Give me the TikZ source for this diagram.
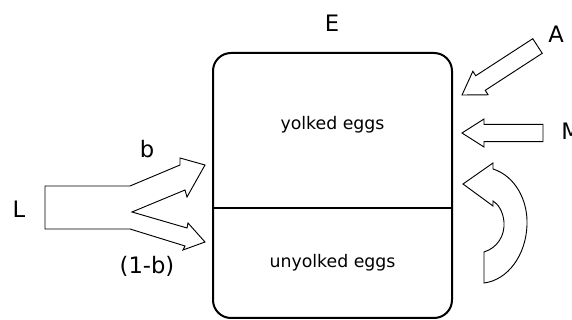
\documentclass[tikz,border=0pt]{standalone}
\usepackage{fontspec}
\setmainfont{DejaVu Sans}
\usetikzlibrary{positioning}

% block arrow: tail centre, direction, length
\newcommand{\fatarrow}[3]{%
  \draw[outline, shift={#1}, rotate=#2] (0,-8.7) -- (#3-22,-8.7) -- (#3-22,-14)
    -- (#3,0) -- (#3-22,14) -- (#3-22,8.7) -- (0,8.7) -- cycle;}

\begin{document}
\begin{tikzpicture}[x=0.75pt,y=-0.75pt,
    outline/.style={draw, line width=0.7pt, line join=miter},
    biglabel/.style={anchor=base, inner sep=0pt, font=\fontsize{17}{20}\selectfont},
    eggtext/.style={anchor=base, inner sep=0pt, font=\fontsize{13}{16}\selectfont}]
    \useasboundingbox (0,0) rectangle (572,320);

    \node[draw, line width=1.5pt, rounded corners=13.5pt, inner sep=0pt,
          minimum width=179.25pt, minimum height=198.75pt] (eggs) at (332.5,185.5) {};
    \draw[line width=1.5pt] (eggs.west |- 0,208) -- (eggs.east |- 0,208);

    \node[biglabel] (E) at (332,32) {E};
    \node[eggtext] (yolked) at (332.5,130) {yolked eggs};
    \node[eggtext] (unyolked) at (332.5,268) {unyolked eggs};

    % split input
    \draw[outline] (45,186) -- (130,186) -- (180,165) -- (180,158) -- (205,165)
        -- (187,197) -- (185,190) -- (132,212) -- (187,228) -- (188,223)
        -- (205,242) -- (183,250) -- (185,246) -- (130,229) -- (45,229) -- cycle;
    \node[biglabel] (L) at (19,218) {L};
    \node[biglabel] (b) at (147,158) {b};
    \node[biglabel] (oneminusb) at (147,274) {(1-b)};

    % inputs on the right
    \fatarrow{(537.5,46)}{213}{90}
    \fatarrow{(543,133)}{180}{81}
    \node[biglabel] (A) at (556,43) {A};
    \node[biglabel, anchor=base west] (M) at (561,140) {M};

    % curved arrow
    \draw[outline] (484,283) -- (484,252) .. controls (497,248) and (505,236) .. (504,222)
        .. controls (503,211) and (498,204) .. (493,201) -- (493,206) -- (463,184)
        -- (493,163) -- (493,169) .. controls (515,176) and (528,200) .. (527,225)
        .. controls (526,255) and (508,280) .. (484,283) -- cycle;
\end{tikzpicture}
\end{document}
